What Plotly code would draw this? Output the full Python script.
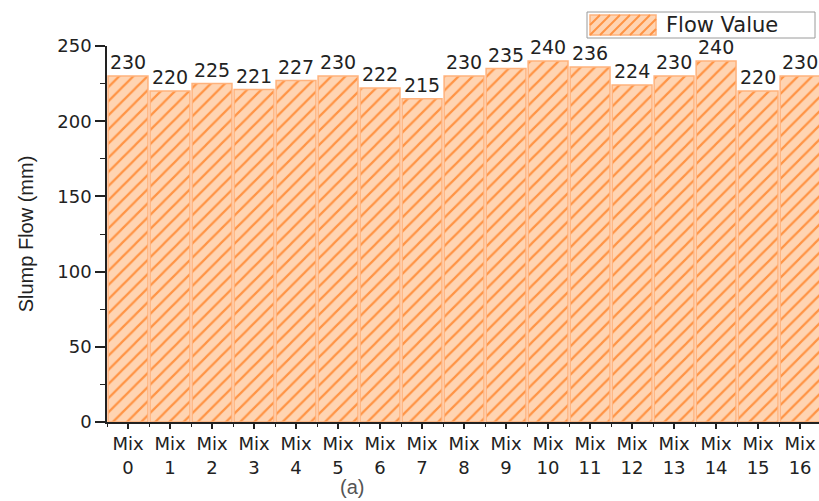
import plotly.graph_objects as go

# Slump flow per mix
mixes = [f"Mix<br>{i}" for i in range(17)]
flow = [230, 220, 225, 221, 227, 230, 222, 215, 230, 235, 240, 236, 224, 230, 240, 220, 230]
y_ticks = [0, 50, 100, 150, 200, 250]
positions = list(range(len(mixes)))
series_name = "Flow Value"

FONT = "DejaVu Sans, Arial, sans-serif"
TITLE_FONT = "Liberation Sans, Arial, sans-serif"

W, H = 819, 501
M_L, M_R, M_T, M_B = 107, 0, 46, 79
PW, PH = W - M_L - M_R, H - M_T - M_B

BAR_BG = "#FFD4B2"
BAR_LINE = "#FFB27C"
HATCH = "#FF9445"


def px_to_paper(px, py):
    return (px - M_L) / PW, (H - M_B - py) / PH


fig = go.Figure()
fig.add_trace(go.Bar(
    x=positions,
    y=flow,
    name=series_name,
    text=[str(v) for v in flow],
    textposition="outside",
    textfont=dict(family=FONT, size=19, color="#222222"),
    cliponaxis=False,
    showlegend=False,
    marker=dict(
        color=BAR_BG,
        line=dict(color=BAR_LINE, width=1.5),
        pattern=dict(shape="/", fgcolor=HATCH, bgcolor=BAR_BG,
                     size=10, solidity=0.22, fillmode="replace"),
    ),
))

# Legend box drawn in the top-right corner with a hatched swatch
box = (587, 12, 815, 38)
sw = (590, 15, 656, 35)
shapes = []
bx0, by1 = px_to_paper(box[0], box[1])
bx1, by0 = px_to_paper(box[2], box[3])
shapes.append(dict(type="rect", xref="paper", yref="paper", x0=bx0, x1=bx1, y0=by0, y1=by1,
                   line=dict(color="#9a9a9a", width=1), fillcolor="white", layer="above"))
sx0, sy1 = px_to_paper(sw[0], sw[1])
sx1, sy0 = px_to_paper(sw[2], sw[3])
shapes.append(dict(type="rect", xref="paper", yref="paper", x0=sx0, x1=sx1, y0=sy0, y1=sy1,
                   line=dict(color=BAR_LINE, width=1.5), fillcolor=BAR_BG, layer="above"))
# "/" hatch lines clipped to the swatch
path = []
step = 10
L, T, R, B = sw
c = L - (B - T)
while c < R:
    x_a, y_a = c, B
    x_b, y_b = c + (B - T), T
    if x_a < L:
        y_a = B - (L - x_a)
        x_a = L
    if x_b > R:
        y_b = T + (x_b - R)
        x_b = R
    if x_b > x_a:
        p1 = px_to_paper(x_a, y_a)
        p2 = px_to_paper(x_b, y_b)
        path.append(f"M{p1[0]:.5f},{p1[1]:.5f}L{p2[0]:.5f},{p2[1]:.5f}")
    c += step
shapes.append(dict(type="path", xref="paper", yref="paper", path="".join(path),
                   line=dict(color=HATCH, width=2), layer="above"))

lx, ly = px_to_paper(664, 25)
fig.add_annotation(text=series_name, x=lx, y=ly, xref="paper", yref="paper",
                   xanchor="left", yanchor="middle", showarrow=False,
                   font=dict(family=FONT, size=21, color="#222222"))

fig.update_layout(
    width=W, height=H,
    margin=dict(l=M_L, r=M_R, t=M_T, b=M_B),
    paper_bgcolor="white", plot_bgcolor="white",
    bargap=0.05,
    shapes=shapes,
    font=dict(family=FONT, color="#222222"),
)

fig.update_xaxes(
    range=[-0.5, 16.45],
    tickvals=positions, ticktext=mixes,
    showline=True, linecolor="#222222", linewidth=1.5,
    ticks="outside", ticklen=5, tickwidth=1.5, tickcolor="#222222",
    tickfont=dict(family=FONT, size=18, color="#222222"),
    minor=dict(tick0=0.5, dtick=1, ticks="outside", ticklen=3, tickcolor="#222222", tickwidth=1),
    showgrid=False, zeroline=False,
)
fig.update_yaxes(
    range=[0, 250],
    tickvals=y_ticks,
    showline=True, linecolor="#222222", linewidth=1.5,
    ticks="outside", ticklen=10, tickwidth=1.5, tickcolor="#222222",
    tickfont=dict(family=FONT, size=18, color="#222222"),
    minor=dict(dtick=25, ticks="outside", ticklen=5, tickcolor="#222222", tickwidth=1),
    showgrid=False, zeroline=False,
    title=dict(text="Slump Flow (mm)", font=dict(family=TITLE_FONT, size=20, color="#222222"), standoff=18),
)

ax, ay = px_to_paper(352, 487)
fig.add_annotation(
    text="(a)", x=ax, y=ay, xref="paper", yref="paper",
    xanchor="center", yanchor="middle",
    showarrow=False, font=dict(family=TITLE_FONT, size=20, color="#555555"),
)

fig.write_html("out.html")
